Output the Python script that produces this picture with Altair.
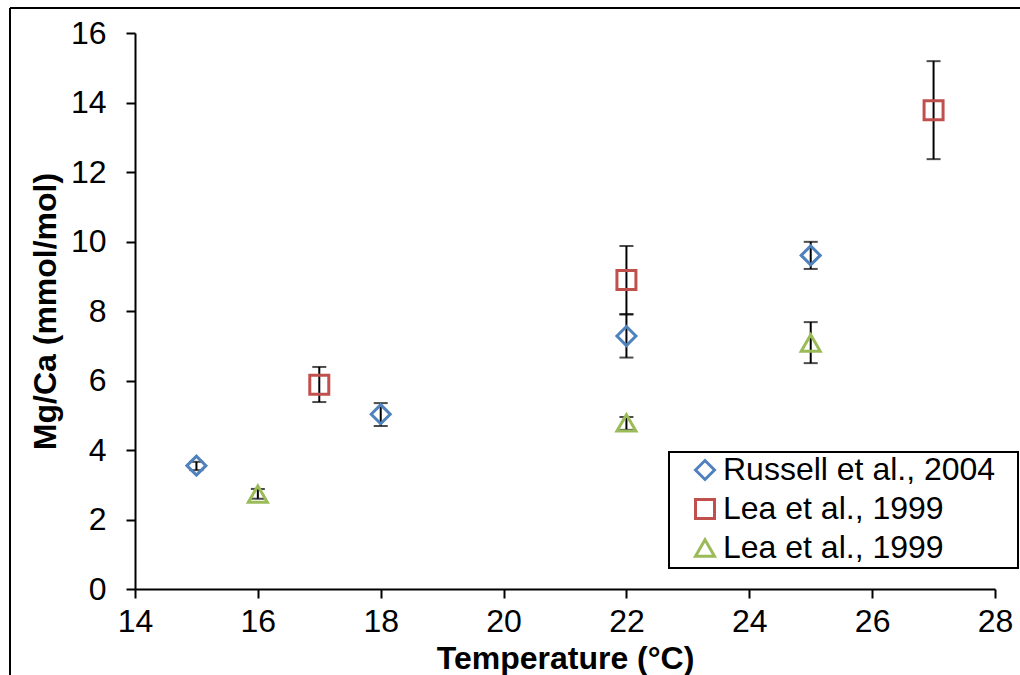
import altair as alt
import pandas as pd

# ---- data ----
russell_t = [15, 18, 22, 25]
russell_mg = [3.55, 5.03, 7.28, 9.60]
russell_lo = [3.42, 4.69, 6.66, 9.21]
russell_hi = [3.66, 5.35, 7.90, 9.99]

lea_sq_t = [17, 22, 27]
lea_sq_mg = [5.88, 8.89, 13.78]
lea_sq_lo = [5.38, 7.91, 12.37]
lea_sq_hi = [6.39, 9.87, 15.19]

lea_tri_t = [16, 22, 25]
lea_tri_mg = [2.73, 4.78, 7.08]
lea_tri_lo = [2.60, 4.58, 6.50]
lea_tri_hi = [2.88, 4.95, 7.68]

series_names = ["Russell et al., 2004", "Lea et al., 1999#sq", "Lea et al., 1999#tri"]
series_colors = ["#4F81BD", "#C0504D", "#9BBB59"]
series_shapes = ["diamond", "square", "triangle-up"]

x_ticks = [14, 16, 18, 20, 22, 24, 26, 28]
y_ticks = [0, 2, 4, 6, 8, 10, 12, 14, 16]

rows = []
for name, t, mg, lo, hi in [
    (series_names[0], russell_t, russell_mg, russell_lo, russell_hi),
    (series_names[1], lea_sq_t, lea_sq_mg, lea_sq_lo, lea_sq_hi),
    (series_names[2], lea_tri_t, lea_tri_mg, lea_tri_lo, lea_tri_hi),
]:
    for a, b, c, d in zip(t, mg, lo, hi):
        rows.append({"series": name, "temp": a, "mg": b, "lo": c, "hi": d})
df = pd.DataFrame(rows)

FONT = "Liberation Sans"
xscale = alt.Scale(domain=[14, 28], nice=False, zero=False)
yscale = alt.Scale(domain=[0, 16], nice=False)
xaxis = alt.Axis(values=x_ticks, title="Temperature (°C)", titleX=430, titleY=79,
                 titleBaseline="alphabetic", labelPadding=8, labelFlush=False)
yaxis = alt.Axis(values=y_ticks, title="Mg/Ca (mmol/mol)", titleX=-90, titleY=278,
                 titleAngle=270, titleAlign="center", titleBaseline="middle",
                 labelPadding=20, labelFlush=False)

X = alt.X("temp:Q", scale=xscale, axis=xaxis, title="Temperature (°C)")

def Y(field):
    return alt.Y(f"{field}:Q", scale=yscale, axis=yaxis, title="Mg/Ca (mmol/mol)")

base = alt.Chart(df)

err = base.mark_rule(color="black", strokeWidth=2).encode(x=X, y=Y("lo"), y2="hi:Q")
cap_hi = base.mark_tick(orient="horizontal", color="black", size=14, thickness=2).encode(x=X, y=Y("hi"))
cap_lo = base.mark_tick(orient="horizontal", color="black", size=14, thickness=2).encode(x=X, y=Y("lo"))

legend = alt.Legend(title=None, orient="none", legendX=554, legendY=421, padding=0,
                    labelFont=FONT, labelFontSize=32, labelColor="black", labelLimit=600,
                    labelExpr="split(datum.label, '#')[0]", rowPadding=7,
                    symbolSize=361, symbolStrokeWidth=3, labelOffset=2)

points = base.mark_point(filled=False, strokeWidth=3, size=361, opacity=1).encode(
    x=X, y=Y("mg"),
    color=alt.Color("series:N", scale=alt.Scale(domain=series_names, range=series_colors), legend=legend),
    shape=alt.Shape("series:N", scale=alt.Scale(domain=series_names, range=series_shapes), legend=legend),
)

one = alt.Chart(pd.DataFrame({"k": [0]}))
frame_left = one.mark_rule(color="black", strokeWidth=2).encode(
    x=alt.value(-125), y=alt.value(-25), y2=alt.value(700))
frame_top = one.mark_rule(color="black", strokeWidth=2).encode(
    x=alt.value(-125), x2=alt.value(900), y=alt.value(-25))
legend_box = one.mark_rect(fill="white", stroke="black", strokeWidth=2).encode(
    x=alt.value(534), x2=alt.value(883), y=alt.value(419), y2=alt.value(535))

chart = alt.layer(frame_left, frame_top, legend_box, err, cap_hi, cap_lo, points).properties(
    width=860, height=556,
    padding={"left": 135, "top": 33, "right": 25, "bottom": 86},
    autosize=alt.AutoSizeParams(type="none"),
    background="white",
).configure_view(stroke=None).configure_axis(
    grid=False, domainColor="black", domainWidth=2, tickColor="black", tickWidth=2,
    tickSize=9, labelFont=FONT, labelFontSize=32, labelColor="black",
    titleFont=FONT, titleFontSize=32, titleFontWeight="bold", titleColor="black",
)

chart.save("out.html", embed_options={"renderer": "svg", "actions": False})
